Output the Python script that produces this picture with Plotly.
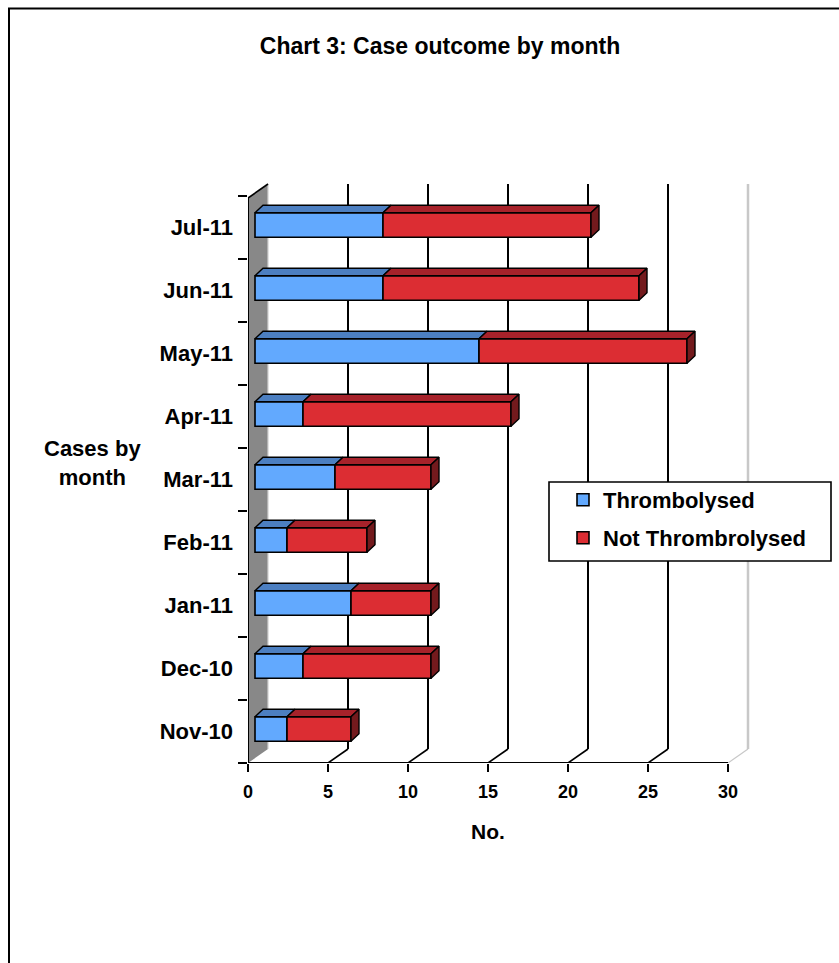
import plotly.graph_objects as go

# ---- data -------------------------------------------------------------
months = ["Nov-10", "Dec-10", "Jan-11", "Feb-11", "Mar-11",
          "Apr-11", "May-11", "Jun-11", "Jul-11"]
thrombolysed = [2, 3, 6, 2, 5, 3, 14, 8, 8]
not_thrombolysed = [4, 8, 5, 5, 6, 13, 13, 16, 13]
x_ticks = [0, 5, 10, 15, 20, 25, 30]

# ---- styling ----------------------------------------------------------
FONT = "Liberation Sans, Arial, sans-serif"
BLUE_FRONT, BLUE_TOP = "#62a9fe", "#4c7fc1"
RED_FRONT, RED_TOP, RED_SIDE = "#dc2d33", "#a7222a", "#731a1d"
WALL_GREY = "#888888"

W, H = 839, 963
ML, MR, MT, MB = 248, 79, 165, 200
PX_X = 16.0   # pixels per case along the value axis
PX_Y = 63.0   # pixels per month band
plot_w = W - ML - MR
plot_h = H - MT - MB
x_range = [0, plot_w / PX_X]
y_range = [-0.5, -0.5 + plot_h / PX_Y]

# depth of the 3-D box and of the bars, in axis units
WALL_DX, WALL_DY = 20 / PX_X, 14 / PX_Y
BAR_DX, BAR_DY = 8 / PX_X, 7.5 / PX_Y
BAR_X0 = 7 / PX_X          # bars sit part-way into the box
BAR_LIFT = 2.5 / PX_Y
BAR_W = 24.5 / PX_Y
n = len(months)
y_bot = -0.5
y_top = n - 0.5 - 2 / PX_Y
x_max = x_ticks[-1]


def px_x(px):
    return (px - ML) / plot_w


def px_y(py):
    return (H - MB - py) / plot_h


fig = go.Figure()

blue_base = [BAR_X0] * n
red_base = [BAR_X0 + t for t in thrombolysed]
yc = [i + BAR_LIFT for i in range(n)]

# front faces of the stacked bars
fig.add_trace(go.Bar(
    y=yc, x=thrombolysed, base=blue_base, orientation="h", width=BAR_W,
    marker=dict(color=BLUE_FRONT, line=dict(color="black", width=1.6)),
    name="Thrombolysed", legend="legend", hoverinfo="skip"))
fig.add_trace(go.Bar(
    y=yc, x=not_thrombolysed, base=red_base, orientation="h", width=BAR_W,
    marker=dict(color=RED_FRONT, line=dict(color="black", width=1.6)),
    name="Not Thrombrolysed", legend="legend2", hoverinfo="skip"))


def top_faces(starts, lengths):
    xs, ys = [], []
    for i, (s, L) in enumerate(zip(starts, lengths)):
        t = yc[i] + BAR_W / 2
        e = s + L
        xs += [s, s + BAR_DX, e + BAR_DX, e, s, None]
        ys += [t, t + BAR_DY, t + BAR_DY, t, t, None]
    return xs, ys


def side_faces(starts, lengths):
    xs, ys = [], []
    for i, (s, L) in enumerate(zip(starts, lengths)):
        b = yc[i] - BAR_W / 2
        t = yc[i] + BAR_W / 2
        e = s + L
        xs += [e, e, e + BAR_DX, e + BAR_DX, e, None]
        ys += [b, t, t + BAR_DY, b + BAR_DY, b, None]
    return xs, ys


for (xs, ys), col in [(top_faces(blue_base, thrombolysed), BLUE_TOP),
                      (top_faces(red_base, not_thrombolysed), RED_TOP),
                      (side_faces(red_base, not_thrombolysed), RED_SIDE)]:
    fig.add_trace(go.Scatter(
        x=xs, y=ys, mode="lines", fill="toself", fillcolor=col,
        line=dict(color="black", width=1.4), showlegend=False,
        hoverinfo="skip"))

shapes = []
# grey side wall
shapes.append(dict(
    type="path", xref="x", yref="y", layer="below",
    path=(f"M 0,{y_bot} L {WALL_DX},{y_bot + WALL_DY} "
          f"L {WALL_DX},{y_top + WALL_DY} L 0,{y_top} Z"),
    fillcolor=WALL_GREY, line=dict(width=0)))
# back wall gridlines and floor diagonals
for v in x_ticks[1:]:
    col = "#c8c8c8" if v == x_max else "black"
    w = 2.5 if v == x_max else 2
    shapes.append(dict(type="line", xref="x", yref="y", layer="below",
                       x0=v + WALL_DX, x1=v + WALL_DX,
                       y0=y_bot + WALL_DY, y1=y_top + WALL_DY,
                       line=dict(color=col, width=w)))
    shapes.append(dict(type="line", xref="x", yref="y", layer="below",
                       x0=v, x1=v + WALL_DX,
                       y0=y_bot, y1=y_bot + WALL_DY,
                       line=dict(color=col, width=1.6 if v != x_max else 1.2)))
# back edge of the side wall
shapes.append(dict(type="line", xref="x", yref="y", layer="below",
                   x0=WALL_DX, x1=WALL_DX, y0=y_bot + WALL_DY,
                   y1=y_top + WALL_DY, line=dict(color="#d0d0d0", width=1.2)))
# front edge and top edge of the side wall
shapes.append(dict(type="line", xref="x", yref="y",
                   x0=0, x1=0, y0=y_bot, y1=y_top,
                   line=dict(color="black", width=2)))
shapes.append(dict(type="line", xref="x", yref="y",
                   x0=0, x1=WALL_DX, y0=y_top, y1=y_top + WALL_DY,
                   line=dict(color="black", width=1.6)))
# value axis line
shapes.append(dict(type="line", xref="x", yref="y",
                   x0=0, x1=x_max, y0=y_bot, y1=y_bot,
                   line=dict(color="black", width=2)))
# legend frame
shapes.append(dict(type="rect", xref="paper", yref="paper", layer="above",
                   x0=px_x(549), x1=px_x(831), y0=px_y(561), y1=px_y(482),
                   fillcolor="white", line=dict(color="black", width=1.6)))
# chart border
shapes.append(dict(type="rect", xref="paper", yref="paper", layer="above",
                   x0=px_x(9), x1=px_x(900), y0=px_y(1000), y1=px_y(8.5),
                   line=dict(color="black", width=2)))

legend_common = dict(xanchor="left", yanchor="middle", bgcolor="rgba(0,0,0,0)",
                     borderwidth=0, font=dict(family=FONT, size=22,
                                              color="black", weight="bold"))

fig.update_layout(
    width=W, height=H,
    margin=dict(l=ML, r=MR, t=MT, b=MB, autoexpand=False),
    paper_bgcolor="white", plot_bgcolor="white",
    barmode="overlay", shapes=shapes,
    title=dict(text="Chart 3: Case outcome by month",
               xref="container", yref="container",
               x=440 / W, y=1 - 46 / H, xanchor="center", yanchor="middle",
               font=dict(family=FONT, size=23, color="black", weight="bold")),
    legend=dict(x=px_x(563), y=px_y(500), **legend_common),
    legend2=dict(x=px_x(563), y=px_y(538), **legend_common),
    xaxis=dict(range=x_range, fixedrange=True, tickmode="array",
               tickvals=x_ticks, ticks="outside", ticklen=8, tickwidth=2,
               tickcolor="black", showline=False, showgrid=False,
               zeroline=False, ticklabelstandoff=4,
               tickfont=dict(family=FONT, size=18, color="black",
                             weight="bold")),
    yaxis=dict(range=y_range, fixedrange=True, tickmode="array",
               tickvals=list(range(n)), ticktext=months, ticks="",
               showline=False, showgrid=False, zeroline=False,
               ticklabelstandoff=14,
               tickfont=dict(family=FONT, size=22, color="black",
                             weight="bold"),
               minor=dict(tickmode="array",
                          tickvals=[i - 0.5 for i in range(n + 1)],
                          ticks="outside", ticklen=9, tickwidth=2,
                          tickcolor="black", showgrid=False)),
    annotations=[
        dict(text="Cases by<br>month", xref="paper", yref="paper",
             x=px_x(92), y=px_y(463), xanchor="center", yanchor="middle",
             showarrow=False, align="center",
             font=dict(family=FONT, size=22, color="black", weight="bold")),
        dict(text="No.", xref="x", yref="paper",
             x=x_max / 2, y=px_y(831), xanchor="center", yanchor="middle",
             showarrow=False,
             font=dict(family=FONT, size=21, color="black", weight="bold")),
    ],
)

fig.write_html("out.html")
